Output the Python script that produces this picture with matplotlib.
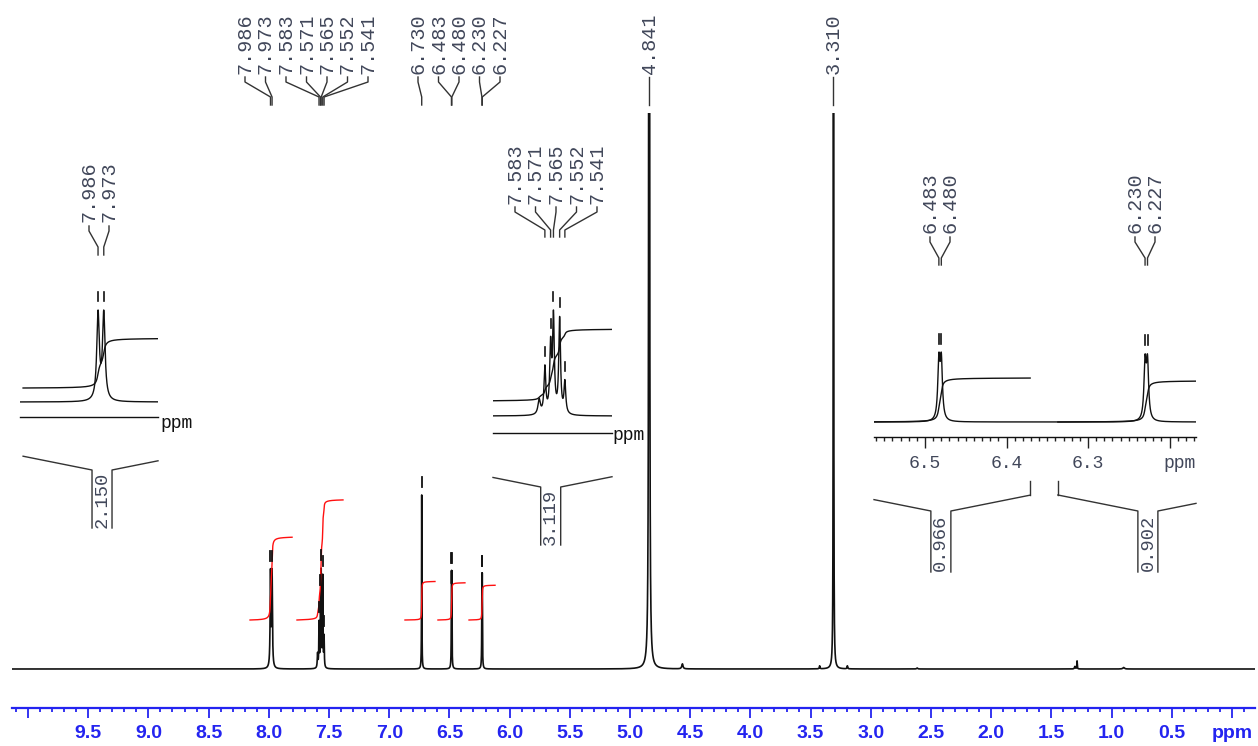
import numpy as np
import matplotlib
matplotlib.use("Agg")
import matplotlib.pyplot as plt
from matplotlib.ticker import FixedLocator, MultipleLocator

W, H = 1258, 746
MONO = "Liberation Mono"
SANS = "Liberation Sans"
LABEL_C = "#41475a"
AXIS_BLUE = "#2424f0"
LINE_C = "#111111"

# ---- peak list of the 1H trace: shift (ppm), height (trace units), half width (ppm)
peak_ppm = [7.986, 7.973, 7.595, 7.583, 7.571, 7.565, 7.552, 7.541, 6.730,
            6.483, 6.480, 6.230, 6.227, 4.841, 4.565, 3.425, 3.310, 3.195,
            2.615, 1.305, 1.287, 0.900]
peak_height = [94, 94, 14, 44, 62, 90, 90, 30, 174,
               80, 80, 78, 78, 4000, 5, 3, 3000, 3,
               1, 2.5, 8, 1.5]
peak_width = [0.0035, 0.0035, 0.003, 0.0022, 0.0022, 0.0022, 0.0022, 0.0022, 0.0015,
              0.0016, 0.0016, 0.0016, 0.0016, 0.0018, 0.006, 0.003, 0.001, 0.003,
              0.005, 0.004, 0.002, 0.008]

# ---- picked peaks written above the trace
label_ppm = [7.986, 7.973, 7.583, 7.571, 7.565, 7.552, 7.541,
             6.730, 6.483, 6.480, 6.230, 6.227, 4.841, 3.310]

# ---- integration regions (ppm) and integral values
integral_from = [8.156, 7.766, 6.869, 6.595, 6.337]
integral_to = [7.807, 7.384, 6.620, 6.371, 6.121]
integral_value = [2.150, 3.119, 1.000, 0.966, 0.902]

# ---- axis ticks
main_tick_values = [10.0, 9.5, 9.0, 8.5, 8.0, 7.5, 7.0, 6.5, 6.0, 5.5, 5.0,
                    4.5, 4.0, 3.5, 3.0, 2.5, 2.0, 1.5, 1.0, 0.5, 0.0]
main_tick_labels = ["", "9.5", "9.0", "8.5", "8.0", "7.5", "7.0", "6.5", "6.0",
                    "5.5", "5.0", "4.5", "4.0", "3.5", "3.0", "2.5", "2.0", "1.5",
                    "1.0", "0.5", "ppm"]
zoom_tick_values = [6.5, 6.4, 6.3, 6.2]
zoom_tick_labels = ["6.5", "6.4", "6.3", ""]

P = np.array(peak_ppm)
PH = np.array(peak_height, dtype=float)
PW = np.array(peak_width)


def trace(x):
    x = np.asarray(x, dtype=float)
    d = x[:, None] - P[None, :]
    return (PH * PW ** 2 / (d ** 2 + PW ** 2)).sum(axis=1)


def integral_curve(x_start, x_end, value, scale, offset, step=0.0002):
    xs = np.arange(x_start, x_end - step / 2, -step)
    cum = np.cumsum(trace(xs))
    cum = cum - cum[0]
    return xs, offset + scale * value * cum / cum[-1]


fig = plt.figure(figsize=(W / 100, H / 100), dpi=100)
fig.patch.set_facecolor("white")


def add_px_axes(x0, y0, x1, y1):
    return fig.add_axes([x0 / W, 1 - y1 / H, (x1 - x0) / W, (y1 - y0) / H])


def to_px(ax, x, y=0.0):
    dx, dy = ax.transData.transform((x, y))
    return dx, H - dy


def bare(ax):
    for s in ("top", "left", "right"):
        ax.spines[s].set_visible(False)
    ax.set_yticks([])
    ax.patch.set_alpha(0)


# ================= full spectrum =================
ax = add_px_axes(12, 113, 1255, 708)
ax.set_xlim(10.133, -0.191)
ax.set_ylim(-39, 556)
bare(ax)
ax.spines["bottom"].set_color(AXIS_BLUE)
ax.spines["bottom"].set_linewidth(1.6)
ax.xaxis.set_major_locator(FixedLocator(main_tick_values))
ax.xaxis.set_minor_locator(MultipleLocator(0.1))
ax.set_xticklabels(main_tick_labels, fontweight="bold", family=SANS,
                   fontsize=14, color=AXIS_BLUE)
ax.tick_params(axis="x", which="major", direction="out", length=7.2,
               width=1.3, color=AXIS_BLUE, pad=5)
ax.tick_params(axis="x", which="minor", direction="out", length=2.9,
               width=1.3, color=AXIS_BLUE)

xs = np.arange(10.3, -0.35, -0.0002)
ax.plot(xs, trace(xs), color=LINE_C, lw=1.2)

# red integral traces
for a, b, v in zip(integral_from, integral_to, integral_value):
    ix, iy = integral_curve(a, b, v, 38.5, 49)
    ax.plot(ix, iy, color="#ff1010", lw=1.0)

# peak pick marks
for p in label_ppm:
    top = trace([p])[0]
    if top + 18 < 556:
        ax.plot([p, p], [top + 8, top + 18], color=LINE_C, lw=1.3)

# ================= overlay for labels and brackets =================
ov = fig.add_axes([0, 0, 1, 1], zorder=10)
ov.set_xlim(0, W)
ov.set_ylim(H, 0)
ov.axis("off")
ov.patch.set_alpha(0)


def peak_labels(ax_src, ppms, label_x, y_text, y0, y1, y2, y3):
    for p, lx in zip(ppms, label_x):
        px, _ = to_px(ax_src, p)
        ov.text(lx, y_text, f"{p:.3f}", rotation=90, ha="center", va="bottom",
                family=MONO, fontsize=14.5, color=LABEL_C)
        ov.plot([lx, lx, px, px], [y0, y1, y2, y3], color="#333333", lw=1.0)


main_label_x = [245 + 20.5 * i for i in range(7)] + \
               [418 + 20.5 * i for i in range(5)]
main_label_x += [to_px(ax, label_ppm[12])[0], to_px(ax, label_ppm[13])[0]]
peak_labels(ax, label_ppm, main_label_x, 74, 77, 82, 97, 105)


def bracket(ax_src, k, y_j, y_bot):
    x_left = to_px(ax_src, ax_src.get_xlim()[0])[0]
    x_right = to_px(ax_src, ax_src.get_xlim()[1])[0]
    a, b = integral_from[k], integral_to[k]
    xa = to_px(ax_src, a)[0]
    xb = to_px(ax_src, b)[0]
    xc = to_px(ax_src, (a + b) / 2)[0] + 2
    sl, sr = xc - 10, xc + 10
    ea, eb = max(xa, x_left), min(xb, x_right)
    ya = y_j - 0.2 * (sl - ea)
    yb = y_j - 0.2 * (eb - sr)
    ov.plot([ea, sl, sl], [ya, y_j, y_bot], color="#333333", lw=1.0)
    ov.plot([eb, sr, sr], [yb, y_j, y_bot], color="#333333", lw=1.0)
    if xa > x_left + 4:
        ov.plot([ea, ea], [ya, ya - 14], color="#333333", lw=1.0)
    if xb < x_right - 4:
        ov.plot([eb, eb], [yb, yb - 14], color="#333333", lw=1.0)
    ov.text(xc, (y_j + y_bot) / 2 + 1, f"{integral_value[k]:.3f}", rotation=90,
            ha="center", va="center", family=MONO, fontsize=13.5, color=LABEL_C)


def inset(box, xlim, base_px, peak_px, k_list, int_scale, int_offset):
    x0, y0, x1, y1 = box
    a = add_px_axes(x0, y0, x1, y1)
    a.set_xlim(*xlim)
    a.set_ylim(-(y1 - base_px), base_px - y0)
    bare(a)
    a.spines["bottom"].set_color(LINE_C)
    a.spines["bottom"].set_linewidth(1.0)
    gx = np.arange(xlim[0], xlim[1], -0.0001)
    raw = trace(gx)
    f = peak_px / raw.max()
    a.plot(gx, raw * f, color=LINE_C, lw=1.0)
    for k in k_list:
        s = min(integral_from[k], xlim[0])
        e = max(integral_to[k], xlim[1])
        ix, iy = integral_curve(integral_from[k], integral_to[k],
                                integral_value[k], int_scale, int_offset, 0.0001)
        m = (ix <= s + 1e-9) & (ix >= e - 1e-9)
        a.plot(ix[m], iy[m], color=LINE_C, lw=1.0)
    return a, f


# ---- inset: 7.986 / 7.973
a1, f1 = inset((20, 285, 158, 417), (8.163, 7.850), 402, 92, [0], 23, 14)
a1.set_xticks([])
for p in label_ppm[0:2]:
    top = trace([p])[0] * f1
    a1.plot([p, p], [top + 9, top + 18], color=LINE_C, lw=1.2)
peak_labels(a1, label_ppm[0:2], [89, 109], 222, 226, 231, 247, 255)
ov.text(160, 423, "ppm", ha="left", va="center", family=MONO, fontsize=13,
        color=LINE_C)
bracket(a1, 0, 470, 528)

# ---- inset: 7.583 ... 7.541
a2, f2 = inset((493, 280, 612, 433), (7.692, 7.442), 416, 106, [1], 23, 15)
a2.set_xticks([])
for p in label_ppm[2:7]:
    top = trace([p])[0] * f2
    a2.plot([p, p], [top + 9, top + 18], color=LINE_C, lw=1.2)
peak_labels(a2, label_ppm[2:7], [515 + 20.5 * i for i in range(5)],
            204, 207, 212, 230, 237)
ov.text(612, 436, "ppm", ha="left", va="center", family=MONO, fontsize=13,
        color=LINE_C)
bracket(a2, 1, 487, 545)

# ---- inset: 6.483 / 6.480 and 6.230 / 6.227
a3, f3 = inset((874, 320, 1196, 437), (6.5626, 6.1675), 422, 70, [3, 4], 45.5, 0)
a3.xaxis.set_major_locator(FixedLocator(zoom_tick_values))
a3.xaxis.set_minor_locator(MultipleLocator(0.01))
a3.set_xticklabels(zoom_tick_labels, family=MONO, fontsize=13, color=LABEL_C)
a3.tick_params(axis="x", which="major", direction="out", length=7.9,
               width=1.0, color="#222222", pad=5)
a3.tick_params(axis="x", which="minor", direction="out", length=2.9,
               width=1.0, color="#222222")
for p in label_ppm[8:12]:
    top = trace([p])[0] * f3
    a3.plot([p, p], [top + 9, top + 19], color=LINE_C, lw=1.2)
peak_labels(a3, label_ppm[8:10], [930, 950], 233, 237, 242, 258, 265)
peak_labels(a3, label_ppm[10:12], [1135, 1155], 233, 237, 242, 258, 265)
ppm_x = to_px(a3, zoom_tick_values[-1])[0]
ov.text(ppm_x + 10, 463, "ppm", ha="center", va="center", family=MONO,
        fontsize=13, color=LABEL_C)
bracket(a3, 3, 511, 572)
bracket(a3, 4, 511, 572)

fig.savefig("out.png", dpi=100, facecolor="white")
